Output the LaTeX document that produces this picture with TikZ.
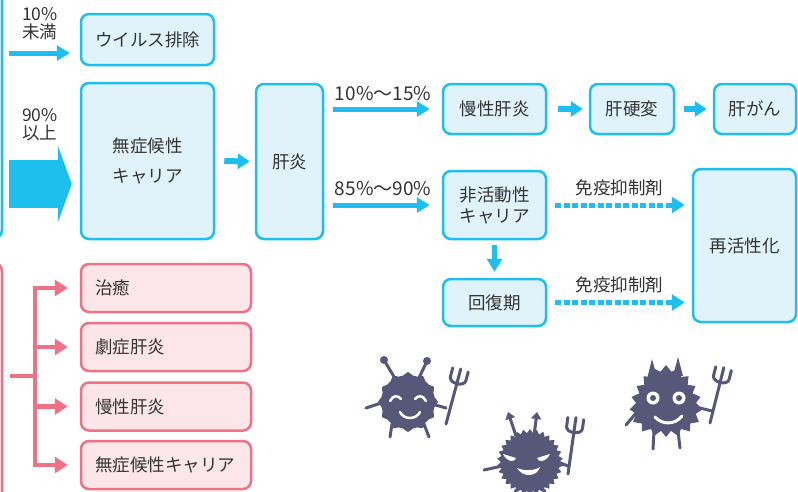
\documentclass[tikz,border=0pt]{standalone}
\usepackage{fontspec}
\setmainfont{Noto Sans CJK JP}
\usetikzlibrary{arrows.meta,calc}
\definecolor{hblue}{HTML}{1DBFEF}
\definecolor{hlightblue}{HTML}{E0F3FB}
\definecolor{hpink}{HTML}{EE7186}
\definecolor{hlightpink}{HTML}{FDE6EA}
\definecolor{htext}{HTML}{333333}
\definecolor{hgerm}{HTML}{57577A}
\newcommand{\bx}{\fontsize{17.5pt}{21pt}\selectfont}
\newcommand{\pct}{\fontsize{19pt}{18pt}\selectfont}

\tikzset{
 bluebox/.style={draw=hblue, fill=hlightblue, line width=2.5pt, rounded corners=8pt, inner sep=0pt, text=htext, font=\bx, align=center},
 pinkbox/.style={draw=hpink, fill=hlightpink, line width=2.5pt, rounded corners=8pt, inner sep=0pt, text=htext, font=\bx,
  minimum width=170pt, minimum height=48pt, text width=142pt, align=left},
 lbl/.style={text=htext, font=\bx, inner sep=0pt, align=center},
 barr/.style={draw=hblue, line width=5pt, -{Triangle[length=13pt, width=15pt]}},
 sarr/.style={draw=hblue, line width=6pt, -{Triangle[length=12pt, width=15pt]}},
 darr/.style={draw=hblue, line width=5pt, dash pattern=on 6pt off 2.5pt, -{Triangle[length=13pt, width=16pt]}},
 parr/.style={draw=hpink, line width=4.5pt, -{Triangle[length=13pt, width=16pt]}},
 limb/.style={draw=hgerm, line width=3pt, line cap=round},
 trident/.pic={
  \draw[hgerm, line width=3pt, line cap=round, line join=round]
   (0,0) -- (0,-42)
   (-8,-56) -- (-8,-47) .. controls (-8,-40) and (8,-40) .. (8,-47) -- (8,-56)
   (0,-42) -- (0,-57);
 },
}

\begin{document}
\begin{tikzpicture}[x=1pt, y=-1pt]
 \clip (0,0) rectangle (798,491);
 \fill[white] (0,0) rectangle (798,491);

 % boxes cut off at the left edge
 \draw[draw=hblue, fill=hlightblue, line width=2.5pt, rounded corners=8pt] (-60,-20) rectangle (2,238);
 \draw[draw=hpink, fill=hlightpink, line width=2.5pt, rounded corners=8pt] (-60,263) rectangle (2,520);

 % blue flow
 \node[bluebox, minimum width=133pt, minimum height=51pt] (virus) at (147.5,39.5) {ウイルス排除};
 \node[bluebox, minimum width=133pt, minimum height=156pt] (asym) at (147.5,161) {無症候性\\[9pt]キャリア};
 \node[bluebox, minimum width=67pt, minimum height=155pt] (hep) at (289.5,161.5) {肝炎};
 \node[bluebox, minimum width=103pt, minimum height=50pt] (chronic) at (494.5,109) {慢性肝炎};
 \node[bluebox, minimum width=84pt, minimum height=50pt] (cirrh) at (632,109) {肝硬変};
 \node[bluebox, minimum width=82pt, minimum height=50pt] (cancer) at (755,109) {肝がん};
 \node[bluebox, minimum width=103pt, minimum height=68pt] (inactive) at (494.5,205) {非活動性\\キャリア};
 \node[bluebox, minimum width=103pt, minimum height=47pt] (recov) at (494.5,302.5) {回復期};
 \node[bluebox, minimum width=103pt, minimum height=153pt] (react) at (744.5,245.5) {再活性化};

 \coordinate (in1) at (9,53);
 \coordinate (in2) at (9,184);
 \draw[barr] (in1) -- (in1 -| virus.west) [shorten >=10pt];
 \draw[draw=hblue, line width=48pt, -{Triangle[length=14pt, width=77pt]}, shorten >=8pt] (in2) -- (in2 -| asym.west);
 \node[lbl, font=\fontsize{17.5pt}{18pt}\selectfont] (low) at (40,24) {10\%\\未満};
 \node[lbl, font=\fontsize{17.5pt}{18pt}\selectfont] (high) at (40,125) {90\%\\以上};

 \draw[sarr, shorten <=9pt, shorten >=5pt] (asym.east) -- (hep.west);
 \draw[barr, shorten <=9pt, shorten >=12pt] (hep.east |- chronic.west) -- (chronic.west)
  node[lbl, font=\pct, midway, above=6pt] {10\%～15\%};
 \draw[barr, shorten <=9pt, shorten >=12pt] (hep.east |- inactive.west) -- (inactive.west)
  node[lbl, font=\pct, midway, above=7pt] {85\%～90\%};
 \draw[sarr, shorten <=11pt, shorten >=6pt] (chronic.east) -- (cirrh.west);
 \draw[sarr, shorten <=9pt, shorten >=6pt] (cirrh.east) -- (cancer.west);
 \draw[barr, shorten <=5pt, shorten >=6pt] (inactive.south) -- (recov.north);
 \draw[darr, shorten <=8pt, shorten >=7pt] (inactive.east) -- (inactive.east -| react.west)
  node[lbl, midway, above=7pt] {免疫抑制剤};
 \draw[darr, shorten <=8pt, shorten >=7pt] (recov.east) -- (recov.east -| react.west)
  node[lbl, midway, above=7pt] {免疫抑制剤};

 % pink branch
 \node[pinkbox] (cure) at (166,288) {治癒};
 \node[pinkbox] (fulm) at (166,347) {劇症肝炎};
 \node[pinkbox] (chronicp) at (166,406.5) {慢性肝炎};
 \node[pinkbox] (carrierp) at (166,465) {無症候性キャリア};
 \coordinate (pstem) at (10,376);
 \coordinate (pfork) at (35,376);
 \draw[draw=hpink, line width=4.5pt] (pstem) -- (pfork);
 \foreach \n in {cure,fulm,chronicp,carrierp}
  \draw[parr, shorten >=12pt] (pfork) |- (\n.west);

 % germs
 \begin{scope}[shift={(408,402)}]
  \draw[limb] (-12,-22) -- (-24,-42) (10,-22) -- (19,-41)
   (-24,0) -- (-42,6) (-16,22) -- (-18,35) (16,22) -- (21,35) (24,2) -- (38,6);
  \fill[hgerm] (-24,-42) circle (4pt) (19,-41) circle (4pt);
  \fill[hgerm] plot[smooth cycle, domain=0:350, samples=36] (\x:{28+2*cos(12*\x)});
  \pic[rotate=-15] at (38,22) {trident};
  \draw[white, line width=2.5pt, line cap=round]
   (-18,-1) .. controls (-15,-7) and (-10,-7) .. (-7,-3)
   (7,-3) .. controls (10,-7) and (15,-7) .. (18,-1)
   (-8,10) .. controls (-4,18) and (8,18) .. (12,10);
 \end{scope}

 \begin{scope}[shift={(530,462)}]
  \draw[limb] (-28,4) -- (-46,8) (28,0) -- (38,4) (-14,28) -- (-18,40) (14,28) -- (18,40);
  \draw[limb, line cap=butt, -{Triangle[length=7pt, width=10pt]}] (-14,-26) -- (-22,-50);
  \draw[limb, line cap=butt, -{Triangle[length=7pt, width=10pt]}] (4,-26) -- (7,-50);
  \fill[hgerm] plot[domain=0:360, samples=61] (\x:{29+4*mod(round(\x/6),2)}) -- cycle;
  \pic[rotate=-8] at (38,12) {trident};
  \fill[white] (-27,-8) -- (-14,-4) .. controls (-15,1) and (-23,0) .. cycle
   (20,-8) -- (7,-4) .. controls (8,1) and (16,0) .. cycle
   (-13,6) .. controls (-6,9) and (4,9) .. (10,5) .. controls (7,15) and (-7,16) .. cycle;
 \end{scope}

 \begin{scope}[shift={(666,403)}]
  \draw[limb] (-12,28) -- (-13,46) (12,28) -- (14,45) (-30,10) -- (-40,22) (30,4) -- (46,8);
  \fill[hgerm] (-19,-24) -- (-14,-44) -- (-9,-26) -- cycle (7,-27) -- (12,-46) -- (17,-27) -- cycle;
  \fill[hgerm] plot[domain=0:360, samples=37] (\x:{30+6*mod(round(\x/10),2)+2*sin(3*\x)}) -- cycle;
  \pic[rotate=-14] at (44,20) {trident};
  \fill[white] (-13,-5) circle (6.5pt) (13,-5) circle (6.5pt);
  \fill[hgerm] (-13,-5) circle (3pt) (13,-5) circle (3pt);
  \draw[white, line width=3pt, line cap=round] (-11,14) .. controls (-4,22) and (9,22) .. (16,13);
 \end{scope}
\end{tikzpicture}
\end{document}
